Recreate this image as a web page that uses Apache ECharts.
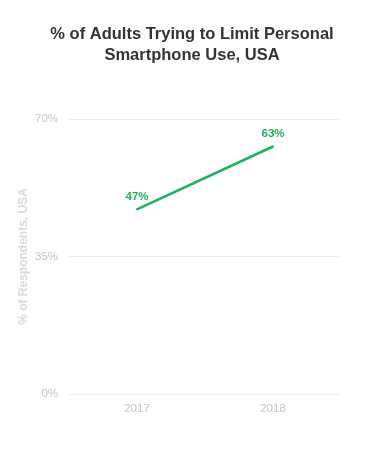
<!DOCTYPE html>
<html>
<head>
<meta charset="utf-8">
<script src="https://cdn.jsdelivr.net/npm/echarts@6/dist/echarts.min.js"></script>
<style>
  html, body { margin: 0; padding: 0; background: #fff; }
  #chart { width: 375px; height: 450px; }
</style>
</head>
<body>
<div id="chart"></div>
<script>
const years = ['2017', '2018'];
const shareTrying = [47, 63];
const yTicks = [0, 35, 70];

const green = '#1fb25a';
const chart = echarts.init(document.getElementById('chart'), null, { renderer: 'canvas' });

chart.setOption({
  animation: false,
  textStyle: { fontFamily: 'Liberation Sans, Arial, sans-serif' },
  title: {
    text: '% of Adults Trying to Limit Personal\nSmartphone Use, USA',
    left: 187,
    textAlign: 'center',
    top: 19,
    textStyle: { fontSize: 16.5, fontWeight: 'bold', color: '#333', lineHeight: 21 }
  },
  grid: { left: 69, right: 34, top: 119, bottom: 56 },
  xAxis: {
    type: 'category',
    data: years,
    boundaryGap: true,
    axisLine: { show: false },
    axisTick: { show: false },
    axisLabel: { color: '#c4c4c4', fontSize: 11.5, margin: 9 }
  },
  yAxis: {
    type: 'value',
    min: yTicks[0],
    max: yTicks[yTicks.length - 1],
    interval: 35,
    name: '% of Respondents, USA',
    nameLocation: 'middle',
    nameGap: 39,
    nameMoveOverlap: false,
    nameTextStyle: { color: '#dadada', fontSize: 12, fontWeight: 'bold' },
    axisLine: { show: false },
    axisTick: { show: false },
    axisLabel: { color: '#c4c4c4', fontSize: 11.5, margin: 11, formatter: '{value}%' },
    splitLine: { lineStyle: { color: '#ececec', width: 1 } }
  },
  series: [{
    type: 'line',
    data: shareTrying,
    symbol: 'circle',
    symbolSize: 2,
    showSymbol: true,
    itemStyle: { color: green },
    lineStyle: { color: green, width: 2.5 },
    label: {
      show: true,
      position: 'top',
      distance: 6,
      formatter: '{c}%',
      color: green,
      fontSize: 11.5,
      fontWeight: 'bold'
    }
  }]
});
</script>
</body>
</html>
